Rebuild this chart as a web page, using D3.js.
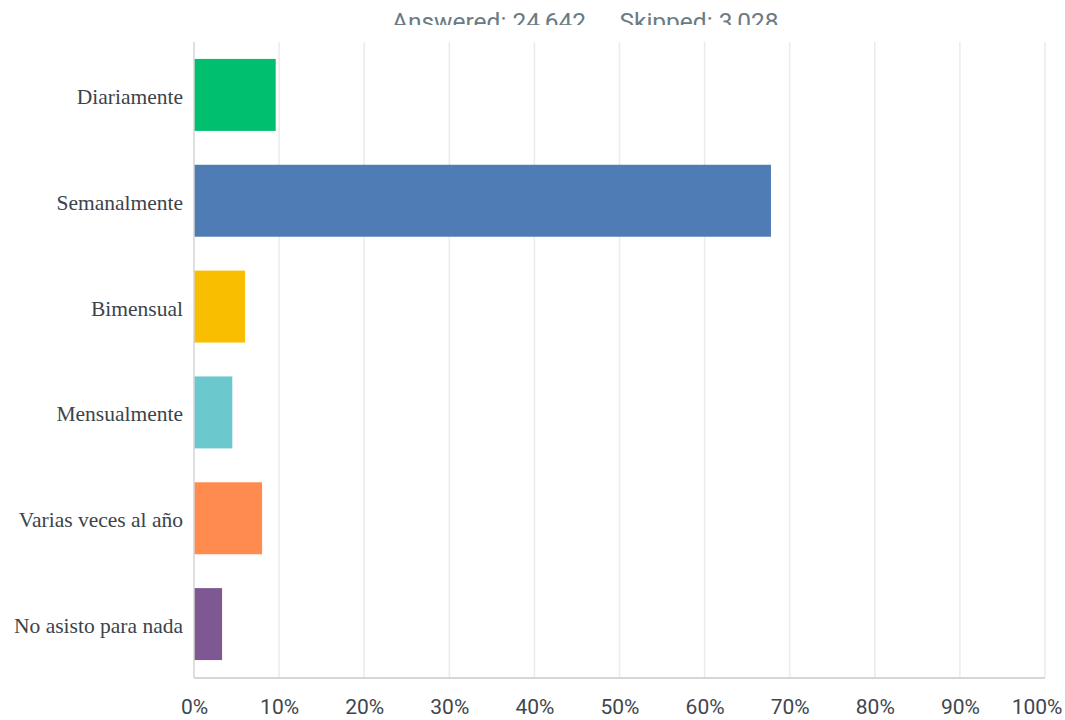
<!DOCTYPE html>
<html><head><meta charset="utf-8">
<script src="https://cdn.jsdelivr.net/npm/d3@7"></script>
<style>body{margin:0;background:#fff}svg{display:block}</style>
</head><body><svg id="c" width="1065" height="720"></svg>
<script>
const categories = ["Diariamente","Semanalmente","Bimensual","Mensualmente","Varias veces al año","No asisto para nada"];
const values = [9.6, 67.8, 6.0, 4.5, 8.0, 3.3];
const colors = ["#00bf6f","#507cb6","#f9be00","#6bc8cd","#ff8b4f","#7d5892"];
const ticks = [0,10,20,30,40,50,60,70,80,90,100];
const header = ["Answered: 24,642", "Skipped: 3,028"];

const svg = d3.select("#c");
const m = {left:194, right:1045, top:42, bottom:677};
const x = d3.scaleLinear().domain([0,100]).range([m.left, m.right]);
const y = d3.scaleBand().domain(categories).range([m.top, m.bottom]).paddingInner(0.32).paddingOuter(0.16);

// header (clipped at top like the reference)
svg.append("clipPath").attr("id","hc").append("rect").attr("x",0).attr("y",0).attr("width",1065).attr("height",25);
const hg = svg.append("g").attr("clip-path","url(#hc)");
hg.append("text").attr("x",489).attr("y",30).attr("text-anchor","middle")
  .attr("font-family","Roboto, 'Liberation Sans', sans-serif").attr("font-size",24.5).attr("fill","#6b7b83").text(header[0]);
hg.append("text").attr("x",699).attr("y",30).attr("text-anchor","middle")
  .attr("font-family","Roboto, 'Liberation Sans', sans-serif").attr("font-size",24.5).attr("fill","#6b7b83").text(header[1]);

// gridlines
svg.append("g").selectAll("line").data(ticks.slice(1)).join("line")
  .attr("x1",d=>x(d)).attr("x2",d=>x(d)).attr("y1",m.top).attr("y2",m.bottom)
  .attr("stroke","#ebebeb").attr("stroke-width",1.5);

// bars
svg.append("g").selectAll("rect").data(categories).join("rect")
  .attr("x",x(0)).attr("y",d=>y(d)).attr("height",y.bandwidth())
  .attr("width",(d,i)=>x(values[i])-x(0)).attr("fill",(d,i)=>colors[i]);

// left axis line
svg.append("line").attr("x1",m.left).attr("x2",m.left).attr("y1",m.top).attr("y2",m.bottom+1)
  .attr("stroke","#d4d4d4").attr("stroke-width",1.5);
// bottom axis line
svg.append("line").attr("x1",m.left).attr("x2",m.right).attr("y1",m.bottom+1).attr("y2",m.bottom+1)
  .attr("stroke","#d6d6d6").attr("stroke-width",2);

// category labels
svg.append("g").selectAll("text").data(categories).join("text")
  .attr("x",183).attr("y",d=>y(d)+y.bandwidth()/2).attr("dy","0.42em")
  .attr("text-anchor","end").attr("font-family","'Liberation Serif', 'DejaVu Serif', serif")
  .attr("font-size",21.5).attr("fill","#3b444b").text(d=>d);

// x axis
const xa = d3.axisBottom(x).tickValues(ticks).tickFormat(d=>d+"%").tickSize(0).tickPadding(0);
const ag = svg.append("g").attr("transform",`translate(0,${m.bottom})`).call(xa);
ag.select(".domain").remove();
ag.selectAll("text").attr("y",22).attr("dy","0.71em").attr("font-family","Roboto, 'Liberation Sans', sans-serif")
  .attr("font-size",21).attr("fill","#3e464c");
ag.selectAll(".tick").filter(d=>d===100).select("text").attr("text-anchor","end").attr("x",1062-x(100));
</script></body></html>
